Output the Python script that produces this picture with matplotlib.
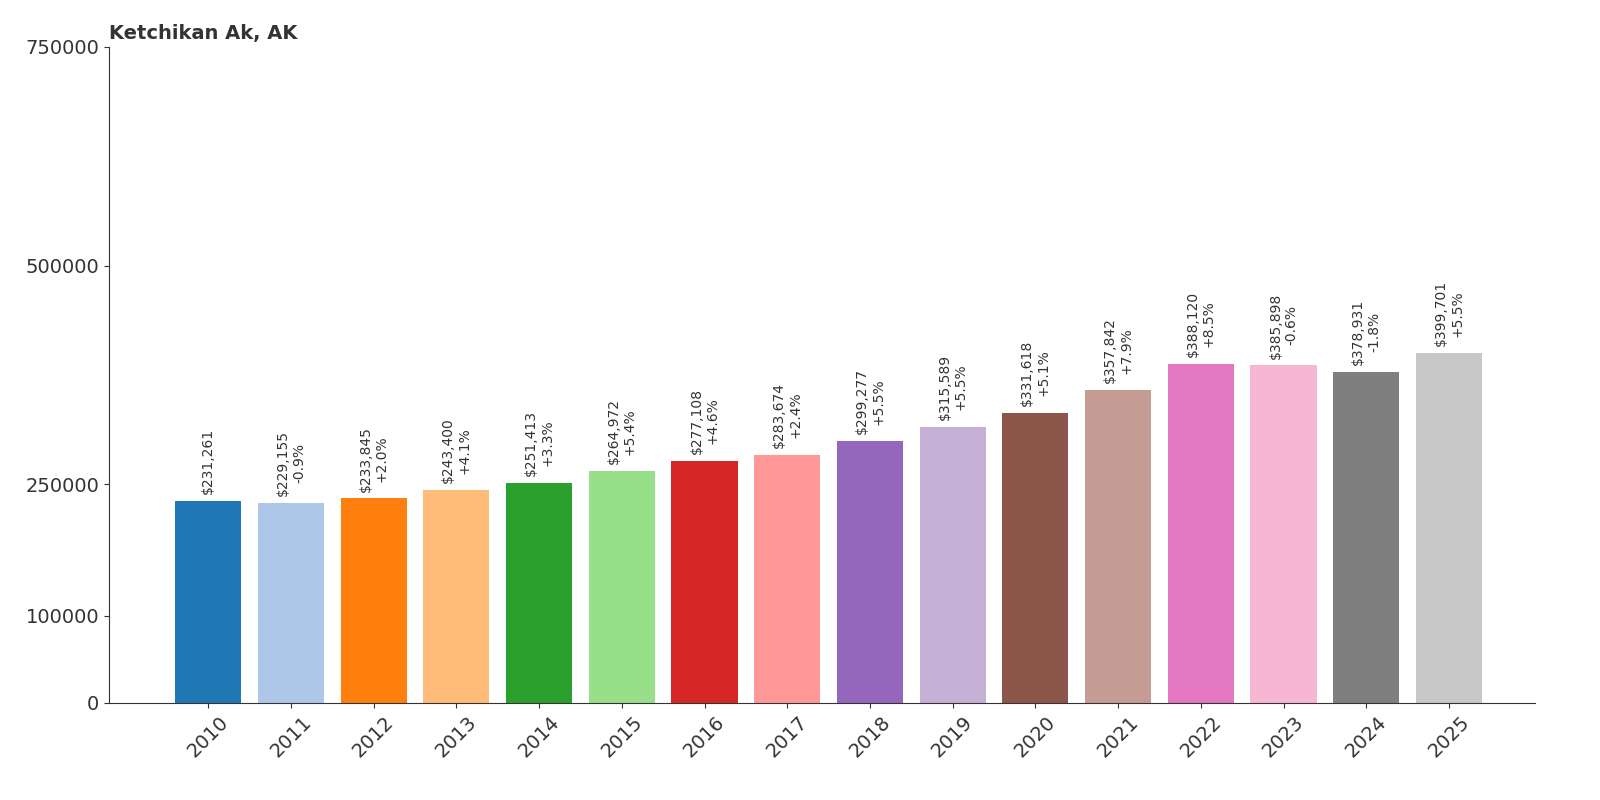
import matplotlib
matplotlib.use("Agg")
import matplotlib.pyplot as plt

years = [str(y) for y in range(2010, 2026)]
values = [231261, 229155, 233845, 243400, 251413, 264972, 277108, 283674,
          299277, 315589, 331618, 357842, 388120, 385898, 378931, 399701]
changes = [None, "-0.9%", "+2.0%", "+4.1%", "+3.3%", "+5.4%", "+4.6%", "+2.4%",
           "+5.5%", "+5.5%", "+5.1%", "+7.9%", "+8.5%", "-0.6%", "-1.8%", "+5.5%"]
yticks = [0, 100000, 250000, 500000, 750000]

colors = plt.get_cmap("tab20").colors
fig = plt.figure(figsize=(16, 8), dpi=100)
ax = fig.add_axes([109/1600, 1-703/800, (1535-109)/1600, (703-47)/800])
x = list(range(len(years)))
ax.bar(x, values, width=0.8, color=[colors[i % 20] for i in x])
for i, v in enumerate(values):
    t = f"${v:,}" if changes[i] is None else f"${v:,}\n{changes[i]}"
    ax.annotate(t, (i, v), xytext=(0, 5), textcoords="offset points",
                rotation=90, ha="center", va="bottom", fontsize=10, color="#333333")
ax.set_xlim(-1.2, 16.04)
ax.set_ylim(0, 750000)
ax.set_yticks(yticks)
ax.set_yticklabels([str(t) for t in yticks], fontsize=14)
ax.set_xticks(x)
ax.set_xticklabels(years, rotation=45, fontsize=14)
ax.tick_params(colors="#333333")
for s in ["top", "right"]:
    ax.spines[s].set_visible(False)
for s in ["left", "bottom"]:
    ax.spines[s].set_color("#333333")
ax.set_title("Ketchikan Ak, AK", loc="left", fontsize=14, fontweight="bold",
             color="#333333", pad=6)
fig.savefig("out.png", dpi=100)
